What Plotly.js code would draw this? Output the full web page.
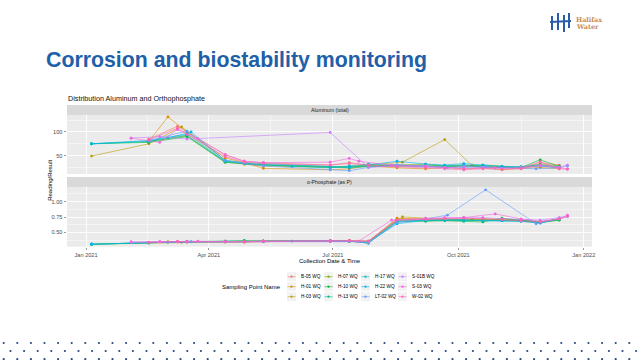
<!DOCTYPE html>
<html><head><meta charset="utf-8">
<script src="https://cdn.plot.ly/plotly-3.0.1.min.js"></script>
<style>html,body{margin:0;padding:0;background:#fff}#chart{width:640px;height:360px}</style>
</head><body><div id="chart"></div>
<script>
// ---- data ----
const siteNames = ["B-05 WQ","H-01 WQ","H-03 WQ","H-07 WQ","H-10 WQ","H-13 WQ","H-17 WQ","H-22 WQ","LT-02 WQ","S-01B WQ","S-03 WQ","W-02 WQ"];
const siteColors = ["#F8766D","#DE8C00","#B79F00","#7CAE00","#00BA38","#00C08B","#00BFC4","#00B4F0","#619CFF","#C77CFF","#F564E3","#FF64B0"];

const b05Dates = ["2021-02-16","2021-03-09","2021-03-16","2021-04-13","2021-04-27","2021-05-11","2021-06-29","2021-07-13","2021-07-27","2021-08-17","2021-09-07","2021-09-21","2021-10-05","2021-10-19","2021-11-02","2021-11-16","2021-11-30","2021-12-14"];
const b05Al = [85,112,100,52,38,35,30,35,30,28,27,25,28,25,27,24,35,30];
const b05Po = [0.34,0.35,0.35,0.35,0.34,0.35,0.36,0.37,0.36,0.72,0.71,0.70,0.72,0.73,0.70,0.70,0.67,0.71];

const h01Dates = ["2021-02-16","2021-03-02","2021-03-16","2021-04-13","2021-04-27","2021-05-11","2021-06-29","2021-07-13","2021-07-27","2021-08-17","2021-09-07","2021-09-21","2021-10-05","2021-10-19","2021-11-02","2021-11-16","2021-11-30","2021-12-14"];
const h01Al = [80,132,100,45,35,23,20,22,28,24,22,25,22,24,20,22,25,22];
const h01Po = [0.34,0.35,0.35,0.35,0.36,0.36,0.37,0.36,0.35,0.73,0.72,0.71,0.70,0.70,0.71,0.69,0.66,0.72];

const h03Dates = ["2021-01-05","2021-02-16","2021-03-12","2021-04-13","2021-04-27","2021-05-11","2021-06-29","2021-07-13","2021-07-27","2021-08-21","2021-09-21","2021-10-11","2021-10-19","2021-11-02","2021-11-16","2021-11-30","2021-12-14"];
const h03Al = [49,75,111,40,32,28,25,27,30,36,84,29,26,25,24,28,25];
const h03Po = [0.31,0.33,0.34,0.35,0.35,0.36,0.36,0.37,0.36,0.75,0.72,0.71,0.70,0.70,0.69,0.66,0.71];

const h07Dates = ["2021-02-16","2021-03-16","2021-04-13","2021-04-27","2021-05-11","2021-06-29","2021-07-13","2021-07-27","2021-08-17","2021-09-07","2021-09-21","2021-10-05","2021-10-19","2021-11-02","2021-11-16","2021-11-30","2021-12-14"];
const h07Al = [80,92,36,32,30,26,25,28,30,32,28,30,28,26,25,32,28];
const h07Po = [0.34,0.35,0.35,0.35,0.36,0.36,0.36,0.35,0.70,0.70,0.70,0.69,0.71,0.72,0.70,0.67,0.70];

const h10Dates = ["2021-01-05","2021-02-16","2021-03-16","2021-04-13","2021-04-27","2021-05-11","2021-06-29","2021-07-13","2021-07-27","2021-08-17","2021-09-07","2021-09-21","2021-10-05","2021-10-19","2021-11-02","2021-11-16","2021-11-30","2021-12-14"];
const h10Al = [75,78,90,36,33,30,25,26,28,27,30,28,26,30,27,25,41,27];
const h10Po = [0.31,0.34,0.35,0.36,0.37,0.36,0.36,0.36,0.33,0.69,0.68,0.69,0.68,0.67,0.73,0.70,0.66,0.70];

const h13Dates = ["2021-01-05","2021-02-16","2021-03-16","2021-04-13","2021-04-27","2021-05-11","2021-06-29","2021-07-13","2021-07-27","2021-08-17","2021-09-07","2021-09-21","2021-10-05","2021-10-19","2021-11-02","2021-11-16","2021-11-30","2021-12-14"];
const h13Al = [75,80,93,37,34,31,27,24,27,30,28,27,29,27,24,26,30,26];
const h13Po = [0.31,0.34,0.35,0.36,0.36,0.36,0.37,0.36,0.33,0.67,0.69,0.70,0.69,0.70,0.69,0.70,0.67,0.71];

const h17Dates = ["2021-01-05","2021-02-16","2021-03-02","2021-03-16","2021-04-13","2021-04-27","2021-05-11","2021-06-01","2021-06-29","2021-07-13","2021-07-27","2021-08-17","2021-09-07","2021-09-21","2021-10-05","2021-10-19","2021-11-02","2021-11-16","2021-11-30","2021-12-14"];
const h17Al = [75,80,88,97,38,33,30,27,24,28,32,30,26,28,30,26,24,26,30,24];
const h17Po = [0.31,0.33,0.34,0.35,0.35,0.35,0.36,0.36,0.36,0.36,0.34,0.68,0.70,0.70,0.69,0.70,0.69,0.68,0.66,0.72];

const h22Dates = ["2021-01-05","2021-02-16","2021-03-16","2021-03-19","2021-04-13","2021-04-27","2021-05-11","2021-06-29","2021-07-13","2021-07-27","2021-08-17","2021-09-07","2021-09-21","2021-10-05","2021-10-19","2021-11-02","2021-11-16","2021-11-30","2021-12-14"];
const h22Al = [75,82,95,100,40,35,33,28,25,30,38,32,30,33,30,27,26,28,24];
const h22Po = [0.31,0.34,0.35,0.35,0.35,0.36,0.36,0.36,0.36,0.34,0.64,0.70,0.70,0.71,0.69,0.69,0.68,0.65,0.73];

const lt02Dates = ["2021-02-16","2021-03-16","2021-04-13","2021-04-27","2021-05-11","2021-06-29","2021-07-13","2021-07-27","2021-08-17","2021-09-07","2021-09-23","2021-10-21","2021-11-27","2021-12-14","2021-12-20"];
const lt02Al = [82,102,40,33,28,20,18,25,30,28,24,26,22,24,28];
const lt02Po = [0.34,0.35,0.35,0.35,0.36,0.36,0.36,0.33,0.66,0.72,0.78,1.19,0.64,0.72,0.76];

const s01bDates = ["2021-02-03","2021-02-24","2021-03-16","2021-06-29","2021-07-27","2021-08-17","2021-09-07","2021-09-21","2021-10-05","2021-10-19","2021-11-02","2021-11-16","2021-11-30","2021-12-14","2021-12-20"];
const s01bAl = [87,90,85,99,25,28,26,24,27,25,23,25,28,26,30];
const s01bPo = [0.35,0.35,0.35,0.36,0.35,0.70,0.72,0.73,0.74,0.74,0.72,0.71,0.70,0.74,0.77];

const s03Dates = ["2021-02-03","2021-02-24","2021-03-09","2021-03-24","2021-04-13","2021-04-27","2021-05-11","2021-06-29","2021-07-13","2021-07-20","2021-08-13","2021-09-07","2021-09-21","2021-10-05","2021-10-28","2021-11-16","2021-11-30","2021-12-14","2021-12-20"];
const s03Al = [87,78,105,86,52,38,35,36,44,38,30,28,25,22,24,22,30,24,22];
const s03Po = [0.34,0.35,0.35,0.36,0.35,0.35,0.36,0.37,0.37,0.36,0.70,0.73,0.74,0.74,0.80,0.72,0.68,0.72,0.78];

const w02Dates = ["2021-02-16","2021-03-09","2021-03-16","2021-04-13","2021-04-27","2021-05-11","2021-06-29","2021-07-13","2021-07-27","2021-08-17","2021-09-07","2021-09-21","2021-10-05","2021-10-19","2021-11-02","2021-11-16","2021-11-30","2021-12-14","2021-12-20"];
const w02Al = [83,108,95,48,36,33,30,33,30,26,24,22,20,22,21,23,37,22,21];
const w02Po = [0.34,0.35,0.35,0.35,0.35,0.36,0.36,0.37,0.36,0.70,0.71,0.72,0.73,0.72,0.71,0.69,0.67,0.72,0.76];

const siteDates = [b05Dates,h01Dates,h03Dates,h07Dates,h10Dates,h13Dates,h17Dates,h22Dates,lt02Dates,s01bDates,s03Dates,w02Dates];
const siteAl = [b05Al,h01Al,h03Al,h07Al,h10Al,h13Al,h17Al,h22Al,lt02Al,s01bAl,s03Al,w02Al];
const sitePo = [b05Po,h01Po,h03Po,h07Po,h10Po,h13Po,h17Po,h22Po,lt02Po,s01bPo,s03Po,w02Po];

const xTickVals = ["2021-01-01","2021-04-01","2021-07-01","2021-10-01","2022-01-01"];
const xTickText = ["Jan 2021","Apr 2021","Jul 2021","Oct 2021","Jan 2022"];
const xMinorVals = ["2021-02-15","2021-05-16","2021-08-16","2021-11-16"];
const alTickVals = [50,100];
const alTickText = ["50","100"];
const poTickVals = [0.5,0.75,1.0];
const poTickText = ["0.50","0.75","1.00"];

// ---- geometry helpers (pixels -> paper) ----
const W = 640, H = 360;
const px = v => v / W;
const py = v => 1 - v / H;
const FAM = 'Liberation Sans, Arial, sans-serif';

const traces = [];
siteNames.forEach((n, i) => {
  const common = {type:'scatter', mode:'lines+markers', name:n, showlegend:false,
    line:{color:siteColors[i], width:0.6}, marker:{color:siteColors[i], size:2.8}, hoverinfo:'skip'};
  traces.push(Object.assign({}, common, {x:siteDates[i], y:siteAl[i], xaxis:'x', yaxis:'y'}));
  traces.push(Object.assign({}, common, {x:siteDates[i], y:sitePo[i], xaxis:'x2', yaxis:'y2'}));
});

const panelL = 67, panelR = 592;
const topT = 115, topB = 174, botT = 187, botB = 246.7;
const tickFont = {family:FAM, size:5.6, color:'#4D4D4D'};
const xRange = ['2020-12-18','2022-01-07'];

const gridX = {showgrid:true, gridcolor:'#FFFFFF', gridwidth:0.9, zeroline:false, showline:false,
  minor:{tickvals:xMinorVals, showgrid:true, gridcolor:'#FFFFFF', gridwidth:0.45, ticks:''}};

const layout = {
  width: W, height: H, margin:{l:0,r:0,t:0,b:0}, paper_bgcolor:'#FFFFFF', plot_bgcolor:'#EBEBEB',
  showlegend:false, font:{family:FAM},
  xaxis: Object.assign({domain:[px(panelL), px(panelR)], anchor:'y', range:xRange, type:'date',
    tickvals:xTickVals, ticktext:xTickText, showticklabels:false, ticks:''}, gridX),
  xaxis2: Object.assign({domain:[px(panelL), px(panelR)], anchor:'y2', range:xRange, type:'date',
    tickvals:xTickVals, ticktext:xTickText, ticks:'outside', ticklen:2.5, tickwidth:0.5, tickcolor:'#333333',
    tickfont:tickFont}, gridX),
  yaxis: {domain:[py(topB), py(topT)], anchor:'x', range:[11,136], tickvals:alTickVals, ticktext:alTickText,
    ticks:'outside', ticklen:2.5, tickwidth:0.5, tickcolor:'#333333', tickfont:tickFont,
    showgrid:true, gridcolor:'#FFFFFF', gridwidth:0.9, zeroline:false, showline:false,
    minor:{tickvals:[25,75,125], showgrid:true, gridcolor:'#FFFFFF', gridwidth:0.45, ticks:''}},
  yaxis2: {domain:[py(botB), py(botT)], anchor:'x2', range:[0.27,1.235], tickvals:poTickVals, ticktext:poTickText,
    ticks:'outside', ticklen:2.5, tickwidth:0.5, tickcolor:'#333333', tickfont:tickFont,
    showgrid:true, gridcolor:'#FFFFFF', gridwidth:0.9, zeroline:false, showline:false,
    minor:{tickvals:[0.375,0.625,0.875,1.125], showgrid:true, gridcolor:'#FFFFFF', gridwidth:0.45, ticks:''}},
  shapes: [], annotations: []
};

// facet strips
layout.shapes.push({type:'rect', xref:'paper', yref:'paper', x0:px(panelL), x1:px(panelR), y0:py(topT), y1:py(105), fillcolor:'#D9D9D9', line:{width:0}});
layout.shapes.push({type:'rect', xref:'paper', yref:'paper', x0:px(panelL), x1:px(panelR), y0:py(botT), y1:py(177), fillcolor:'#D9D9D9', line:{width:0}});
const stripFont = {family:FAM, size:5.2, color:'#1A1A1A'};
layout.annotations.push({xref:'paper', yref:'paper', x:px((panelL+panelR)/2), y:py(110), text:'Aluminum (total)', showarrow:false, font:stripFont, xanchor:'center', yanchor:'middle'});
layout.annotations.push({xref:'paper', yref:'paper', x:px((panelL+panelR)/2), y:py(182), text:'o-Phosphate (as P)', showarrow:false, font:stripFont, xanchor:'center', yanchor:'middle'});

// titles
layout.annotations.push({xref:'paper', yref:'paper', x:px(44), y:py(60), text:'<b>Corrosion and biostability monitoring</b>', showarrow:false,
  xanchor:'left', yanchor:'middle', font:{family:FAM, size:21.3, color:'#2160A8'}});
layout.annotations.push({xref:'paper', yref:'paper', x:px(66), y:py(98.5), text:'Distribution Aluminum and Orthophosphate', showarrow:false,
  xanchor:'left', yanchor:'middle', font:{family:FAM, size:7.2, color:'#111111'}});
layout.annotations.push({xref:'paper', yref:'paper', x:px(50), y:py((topT+botB)/2), text:'Reading/Result', showarrow:false, textangle:-90,
  xanchor:'center', yanchor:'middle', font:{family:FAM, size:6, color:'#000000'}});
layout.annotations.push({xref:'paper', yref:'paper', x:px(330), y:py(261), text:'Collection Date &amp; Time', showarrow:false,
  xanchor:'center', yanchor:'middle', font:{family:FAM, size:6, color:'#000000'}});

// legend (ggplot style, column-major 4 x 3)
layout.annotations.push({xref:'paper', yref:'paper', x:px(283), y:py(287), text:'Sampling Point Name', showarrow:false,
  xanchor:'right', yanchor:'middle', font:{family:FAM, size:6, color:'#000000'}});
const legKeyX0 = 291.5, legColStep = 37, legRowY0 = 276.7, legRowStep = 10;
siteNames.forEach((n, i) => {
  const c = Math.floor(i / 3), r = i % 3;
  const cx = legKeyX0 + c * legColStep, cy = legRowY0 + r * legRowStep;
  layout.shapes.push({type:'rect', xref:'paper', yref:'paper', x0:px(cx-4.5), x1:px(cx+4.5), y0:py(cy+4.5), y1:py(cy-4.5), fillcolor:'#F2F2F2', line:{width:0}});
  layout.shapes.push({type:'line', xref:'paper', yref:'paper', x0:px(cx-4), x1:px(cx+4), y0:py(cy), y1:py(cy), line:{color:siteColors[i], width:0.6}});
  layout.shapes.push({type:'circle', xref:'paper', yref:'paper', x0:px(cx-1.1), x1:px(cx+1.1), y0:py(cy+1.1), y1:py(cy-1.1), fillcolor:siteColors[i], line:{width:0}});
  layout.annotations.push({xref:'paper', yref:'paper', x:px(cx+7.5), y:py(cy), text:n, showarrow:false, xanchor:'left', yanchor:'middle',
    font:{family:FAM, size:4.7, color:'#000000'}});
});

// logo
const logoBlue = '#2A5CA8';
[[552,16,552,30],[558,13,558,30],[564,15,564,32],[569,13,569,28],[550,22,571,21]].forEach(s => {
  layout.shapes.push({type:'line', xref:'paper', yref:'paper', x0:px(s[0]), y0:py(s[1]), x1:px(s[2]), y1:py(s[3]), line:{color:logoBlue, width:2}});
});
layout.annotations.push({xref:'paper', yref:'paper', x:px(574), y:py(20), text:'<b>Halifax</b>', showarrow:false, xanchor:'left', yanchor:'middle',
  font:{family:'DejaVu Serif, serif', size:6.5, color:'#C98B57'}});
layout.annotations.push({xref:'paper', yref:'paper', x:px(574), y:py(27), text:'<b>Water</b>', showarrow:false, xanchor:'left', yanchor:'middle',
  font:{family:'DejaVu Serif, serif', size:6.5, color:'#C98B57'}});

// decorative dot band
const dotStep = 13.6;
[343, 351, 359].forEach((yy, r) => {
  for (let xx = (r % 2 ? 10.5 : 3.7); xx < W; xx += dotStep) {
    layout.shapes.push({type:'circle', xref:'paper', yref:'paper', x0:px(xx-1.1), x1:px(xx+1.1), y0:py(yy+1.1), y1:py(yy-1.1), fillcolor:'#2B4A80', line:{width:0}});
  }
});

Plotly.newPlot('chart', traces, layout, {displayModeBar:false, staticPlot:true});
</script>
</body></html>
